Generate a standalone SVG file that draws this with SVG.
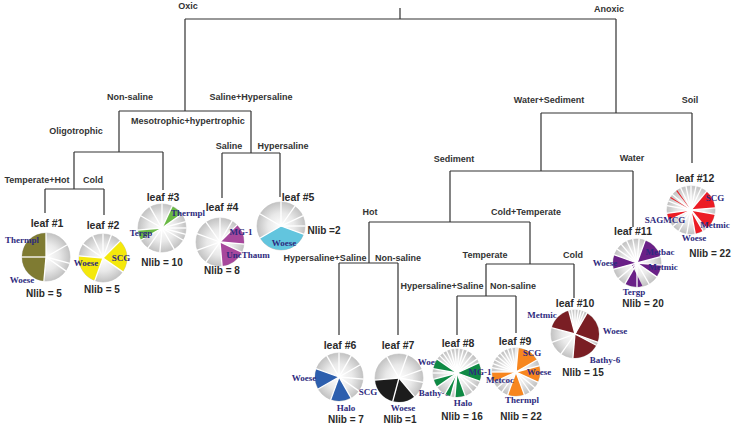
<svg xmlns="http://www.w3.org/2000/svg" xmlns:xlink="http://www.w3.org/1999/xlink" width="736" height="424" viewBox="0 0 736 424">
<style>
.ln{stroke:#333;stroke-width:1.2;fill:none}
.bl{font-family:"Liberation Sans",Arial,sans-serif;font-weight:bold;font-size:9px;fill:#333;text-anchor:middle}
.lf{font-family:"Liberation Sans",Arial,sans-serif;font-weight:bold;font-size:10.5px;fill:#2a2a2a;text-anchor:middle}
.nl{font-family:"Liberation Sans",Arial,sans-serif;font-weight:bold;font-size:10px;fill:#2a2a2a;text-anchor:middle}
.pl{font-family:"Liberation Serif","Times New Roman",serif;font-weight:bold;font-size:9px;fill:#2e2a7e;text-anchor:middle}
.rim{fill:url(#pg);stroke:#bdbdbd;stroke-width:0.6}
.sl{fill:none;stroke-width:24}
.sep{stroke:#fff;stroke-width:1.3}
</style>
<defs>
<radialGradient id="pg" gradientUnits="userSpaceOnUse" cx="0" cy="0" r="24">
<stop offset="0" stop-color="#ffffff"/>
<stop offset="0.55" stop-color="#e9e9e9"/>
<stop offset="1" stop-color="#c3c3c3"/>
</radialGradient>
<path id="s" class="sep" d="M0 0V-24.6"/>
</defs>
<rect width="736" height="424" fill="#fff"/>

<g id="connectors" class="ln">
<path d="M400 8V19M185 19H616"/>
<path d="M185 19V111M119 111H251"/>
<path d="M119 111V152M74 152H163"/>
<path d="M74 152V189M45 189H104M45 189V213M104 189V215"/>
<path d="M163 152V190"/>
<path d="M251 111V153M222 153H280M222 153V198M280 153V197"/>
<path d="M616 19V113M541 113H692M692 113V163"/>
<path d="M541 113V171M450 171H633M633 171V227"/>
<path d="M450 171V222M369 222H530"/>
<path d="M369 222V263M339 263H398M339 263V335M398 263V335"/>
<path d="M530 222V264M486 264H574M574 264V298"/>
<path d="M486 264V296M457 296H516M457 296V335M516 296V333"/>
</g>

<g id="split-root"><text class="bl" x="188" y="9">Oxic</text><text class="bl" x="609" y="12">Anoxic</text></g>
<g id="split-oxic"><text class="bl" x="130" y="100">Non-saline</text><text class="bl" x="251" y="100">Saline+Hypersaline</text></g>
<g id="split-nonsaline"><text class="bl" x="76" y="134">Oligotrophic</text><text class="bl" x="188" y="124">Mesotrophic+hypertrophic</text></g>
<g id="split-oligo"><text class="bl" x="37" y="183">Temperate+Hot</text><text class="bl" x="93" y="183">Cold</text></g>
<g id="split-saline"><text class="bl" x="229" y="149">Saline</text><text class="bl" x="283" y="149">Hypersaline</text></g>
<g id="split-anoxic"><text class="bl" x="549" y="103">Water+Sediment</text><text class="bl" x="690" y="103">Soil</text></g>
<g id="split-watersed"><text class="bl" x="454" y="162">Sediment</text><text class="bl" x="632" y="161">Water</text></g>
<g id="split-sediment"><text class="bl" x="370" y="215">Hot</text><text class="bl" x="526" y="215">Cold+Temperate</text></g>
<g id="split-hot"><text class="bl" x="325" y="261">Hypersaline+Saline</text><text class="bl" x="398" y="261">Non-saline</text></g>
<g id="split-coldtemp"><text class="bl" x="485" y="258">Temperate</text><text class="bl" x="573" y="258">Cold</text></g>
<g id="split-temperate"><text class="bl" x="442" y="289">Hypersaline+Saline</text><text class="bl" x="513" y="289">Non-saline</text></g>

<g id="leaf1">
<text class="lf" x="47" y="227">leaf #1</text>
<g transform="translate(46,257)">
<circle class="rim" r="24"/>
<circle class="sl" r="12" pathLength="360" transform="rotate(-90)" stroke="#7f7b32" stroke-dasharray="85 360" stroke-dashoffset="-185"/>
<circle class="sl" r="12" pathLength="360" transform="rotate(-90)" stroke="#7f7b32" stroke-dasharray="90 360" stroke-dashoffset="-270"/>
<use href="#s"/><use href="#s" transform="rotate(60)"/><use href="#s" transform="rotate(105)"/><use href="#s" transform="rotate(125)"/><use href="#s" transform="rotate(185)"/><use href="#s" transform="rotate(270)"/>
</g>
<text class="pl" x="22" y="243">Thermpl</text>
<text class="pl" x="22" y="283">Woese</text>
<text class="nl" x="44" y="297">Nlib = 5</text>
</g>

<g id="leaf2">
<text class="lf" x="103" y="229">leaf #2</text>
<g transform="translate(103,258)">
<circle class="rim" r="24"/>
<circle class="sl" r="12" pathLength="360" transform="rotate(-90)" stroke="#f4e80c" stroke-dasharray="80 360" stroke-dashoffset="-45"/>
<circle class="sl" r="12" pathLength="360" transform="rotate(-90)" stroke="#f4e80c" stroke-dasharray="75 360" stroke-dashoffset="-200"/>
<use href="#s"/><use href="#s" transform="rotate(20)"/><use href="#s" transform="rotate(45)"/><use href="#s" transform="rotate(125)"/><use href="#s" transform="rotate(200)"/><use href="#s" transform="rotate(275)"/><use href="#s" transform="rotate(305)"/><use href="#s" transform="rotate(335)"/>
</g>
<text class="pl" x="86" y="266">Woese</text>
<text class="pl" x="121" y="261">SCG</text>
<text class="nl" x="102" y="293">Nlib = 5</text>
</g>

<g id="leaf3">
<text class="lf" x="163" y="201">leaf #3</text>
<g transform="translate(162,228)">
<circle class="rim" r="24"/>
<circle class="sl" r="12" pathLength="360" transform="rotate(-90)" stroke="#6ab945" stroke-dasharray="30 360" stroke-dashoffset="-25"/>
<circle class="sl" r="12" pathLength="360" transform="rotate(-90)" stroke="#6ab945" stroke-dasharray="25 360" stroke-dashoffset="-240"/>
<use href="#s"/><use href="#s" transform="rotate(25)"/><use href="#s" transform="rotate(55)"/><use href="#s" transform="rotate(75)"/><use href="#s" transform="rotate(90)"/><use href="#s" transform="rotate(105)"/><use href="#s" transform="rotate(120)"/><use href="#s" transform="rotate(150)"/><use href="#s" transform="rotate(185)"/><use href="#s" transform="rotate(215)"/><use href="#s" transform="rotate(240)"/><use href="#s" transform="rotate(265)"/><use href="#s" transform="rotate(300)"/><use href="#s" transform="rotate(330)"/>
</g>
<text class="pl" x="188" y="216">Thermpl</text>
<text class="pl" x="141" y="236">Tergp</text>
<text class="nl" x="162" y="266">Nlib = 10</text>
</g>

<g id="leaf4">
<text class="lf" x="222" y="211">leaf #4</text>
<g transform="translate(220,242)">
<circle class="rim" r="24"/>
<circle class="sl" r="12" pathLength="360" transform="rotate(-90)" stroke="#a7479c" stroke-dasharray="50 360" stroke-dashoffset="-45"/>
<circle class="sl" r="12" pathLength="360" transform="rotate(-90)" stroke="#a7479c" stroke-dasharray="60 360" stroke-dashoffset="-115"/>
<use href="#s"/><use href="#s" transform="rotate(30)"/><use href="#s" transform="rotate(45)"/><use href="#s" transform="rotate(95)"/><use href="#s" transform="rotate(115)"/><use href="#s" transform="rotate(175)"/><use href="#s" transform="rotate(215)"/><use href="#s" transform="rotate(250)"/><use href="#s" transform="rotate(290)"/><use href="#s" transform="rotate(325)"/>
</g>
<text class="pl" x="241" y="235">MG-1</text>
<text class="pl" x="248" y="258">UncThaum</text>
<text class="nl" x="222" y="274">Nlib = 8</text>
</g>

<g id="leaf5">
<text class="lf" x="298" y="201">leaf #5</text>
<g transform="translate(281,226)">
<circle class="rim" r="24"/>
<circle class="sl" r="12" pathLength="360" transform="rotate(-90)" stroke="#62c5de" stroke-dasharray="130 360" stroke-dashoffset="-110"/>
<use href="#s"/><use href="#s" transform="rotate(35)"/><use href="#s" transform="rotate(65)"/><use href="#s" transform="rotate(90)"/><use href="#s" transform="rotate(110)"/><use href="#s" transform="rotate(240)"/><use href="#s" transform="rotate(300)"/>
</g>
<text class="pl" x="284" y="246">Woese</text>
<text class="nl" x="324" y="234">Nlib =2</text>
</g>

<g id="leaf6">
<text class="lf" x="340" y="349">leaf #6</text>
<g transform="translate(339,377)">
<circle class="rim" r="24"/>
<circle class="sl" r="12" pathLength="360" transform="rotate(-90)" stroke="#2d5fae" stroke-dasharray="50 360" stroke-dashoffset="-240"/>
<circle class="sl" r="12" pathLength="360" transform="rotate(-90)" stroke="#2d5fae" stroke-dasharray="50 360" stroke-dashoffset="-150"/>
<use href="#s"/><use href="#s" transform="rotate(30)"/><use href="#s" transform="rotate(60)"/><use href="#s" transform="rotate(95)"/><use href="#s" transform="rotate(125)"/><use href="#s" transform="rotate(150)"/><use href="#s" transform="rotate(200)"/><use href="#s" transform="rotate(240)"/><use href="#s" transform="rotate(290)"/><use href="#s" transform="rotate(330)"/>
</g>
<text class="pl" x="304" y="381">Woese</text>
<text class="pl" x="368" y="395">SCG</text>
<text class="pl" x="346" y="411">Halo</text>
<text class="nl" x="346" y="423">Nlib = 7</text>
</g>

<g id="leaf7">
<text class="lf" x="398" y="349">leaf #7</text>
<g transform="translate(399,378)">
<circle class="rim" r="24"/>
<circle class="sl" r="12" pathLength="360" transform="rotate(-90)" stroke="#1c1c1c" stroke-dasharray="55 360" stroke-dashoffset="-140"/>
<circle class="sl" r="12" pathLength="360" transform="rotate(-90)" stroke="#1c1c1c" stroke-dasharray="70 360" stroke-dashoffset="-195"/>
<use href="#s" transform="rotate(20)"/><use href="#s" transform="rotate(70)"/><use href="#s" transform="rotate(100)"/><use href="#s" transform="rotate(140)"/><use href="#s" transform="rotate(195)"/><use href="#s" transform="rotate(265)"/><use href="#s" transform="rotate(330)"/>
</g>
<text class="pl" x="430" y="365">Woese</text>
<text class="pl" x="434" y="396">Bathy-6</text>
<text class="pl" x="403" y="411">Woese</text>
<text class="nl" x="400" y="423">Nlib =1</text>
</g>

<g id="leaf8">
<text class="lf" x="458" y="347">leaf #8</text>
<g transform="translate(457,373)">
<circle class="rim" r="24"/>
<circle class="sl" r="12" pathLength="360" transform="rotate(-90)" stroke="#0f8a44" stroke-dasharray="25 360" stroke-dashoffset="-280"/>
<circle class="sl" r="12" pathLength="360" transform="rotate(-90)" stroke="#0f8a44" stroke-dasharray="45 360" stroke-dashoffset="-65"/>
<circle class="sl" r="12" pathLength="360" transform="rotate(-90)" stroke="#0f8a44" stroke-dasharray="25 360" stroke-dashoffset="-160"/>
<circle class="sl" r="12" pathLength="360" transform="rotate(-90)" stroke="#0f8a44" stroke-dasharray="15 360" stroke-dashoffset="-195"/>
<circle class="sl" r="12" pathLength="360" transform="rotate(-90)" stroke="#0f8a44" stroke-dasharray="20 360" stroke-dashoffset="-235"/>
<use href="#s" transform="rotate(305)"/><use href="#s" transform="rotate(315)"/><use href="#s" transform="rotate(325)"/><use href="#s" transform="rotate(335)"/><use href="#s" transform="rotate(345)"/><use href="#s" transform="rotate(355)"/><use href="#s" transform="rotate(5)"/><use href="#s" transform="rotate(15)"/><use href="#s" transform="rotate(25)"/><use href="#s" transform="rotate(40)"/><use href="#s" transform="rotate(55)"/><use href="#s" transform="rotate(65)"/><use href="#s" transform="rotate(110)"/><use href="#s" transform="rotate(125)"/><use href="#s" transform="rotate(140)"/><use href="#s" transform="rotate(160)"/><use href="#s" transform="rotate(185)"/><use href="#s" transform="rotate(195)"/><use href="#s" transform="rotate(210)"/><use href="#s" transform="rotate(235)"/><use href="#s" transform="rotate(255)"/><use href="#s" transform="rotate(270)"/><use href="#s" transform="rotate(280)"/>
</g>
<text class="pl" x="480" y="375">MG-1</text>
<text class="pl" x="463" y="406">Halo</text>
<text class="nl" x="462" y="420">Nlib = 16</text>
</g>

<g id="leaf9">
<text class="lf" x="515" y="345">leaf #9</text>
<g transform="translate(516,372)">
<circle class="rim" r="24"/>
<circle class="sl" r="12" pathLength="360" transform="rotate(-90)" stroke="#f7861f" stroke-dasharray="55 360" stroke-dashoffset="-5"/>
<circle class="sl" r="12" pathLength="360" transform="rotate(-90)" stroke="#f7861f" stroke-dasharray="40 360" stroke-dashoffset="-75"/>
<circle class="sl" r="12" pathLength="360" transform="rotate(-90)" stroke="#f7861f" stroke-dasharray="40 360" stroke-dashoffset="-160"/>
<circle class="sl" r="12" pathLength="360" transform="rotate(-90)" stroke="#f7861f" stroke-dasharray="25 360" stroke-dashoffset="-245"/>
<use href="#s" transform="rotate(270)"/><use href="#s" transform="rotate(280)"/><use href="#s" transform="rotate(290)"/><use href="#s" transform="rotate(300)"/><use href="#s" transform="rotate(310)"/><use href="#s" transform="rotate(320)"/><use href="#s" transform="rotate(330)"/><use href="#s" transform="rotate(340)"/><use href="#s" transform="rotate(350)"/><use href="#s"/><use href="#s" transform="rotate(5)"/><use href="#s" transform="rotate(60)"/><use href="#s" transform="rotate(75)"/><use href="#s" transform="rotate(115)"/><use href="#s" transform="rotate(130)"/><use href="#s" transform="rotate(145)"/><use href="#s" transform="rotate(160)"/><use href="#s" transform="rotate(200)"/><use href="#s" transform="rotate(215)"/><use href="#s" transform="rotate(230)"/><use href="#s" transform="rotate(245)"/>
</g>
<text class="pl" x="532" y="356">SCG</text>
<text class="pl" x="539" y="375">Woese</text>
<text class="pl" x="500" y="383">Metcoc</text>
<text class="pl" x="522" y="403">Thermpl</text>
<text class="nl" x="521" y="420">Nlib = 22</text>
</g>

<g id="leaf10">
<text class="lf" x="575" y="307">leaf #10</text>
<g transform="translate(575,334)">
<circle class="rim" r="24"/>
<circle class="sl" r="12" pathLength="360" transform="rotate(-90)" stroke="#7a1e24" stroke-dasharray="60 360" stroke-dashoffset="-285"/>
<circle class="sl" r="12" pathLength="360" transform="rotate(-90)" stroke="#7a1e24" stroke-dasharray="80 360" stroke-dashoffset="-30"/>
<circle class="sl" r="12" pathLength="360" transform="rotate(-90)" stroke="#7a1e24" stroke-dasharray="67 360" stroke-dashoffset="-118"/>
<use href="#s" transform="rotate(345)"/><use href="#s" transform="rotate(352)"/><use href="#s"/><use href="#s" transform="rotate(8)"/><use href="#s" transform="rotate(15)"/><use href="#s" transform="rotate(22)"/><use href="#s" transform="rotate(30)"/><use href="#s" transform="rotate(110)"/><use href="#s" transform="rotate(118)"/><use href="#s" transform="rotate(185)"/><use href="#s" transform="rotate(215)"/><use href="#s" transform="rotate(250)"/><use href="#s" transform="rotate(285)"/>
</g>
<text class="pl" x="542" y="318">Metmic</text>
<text class="pl" x="615" y="334">Woese</text>
<text class="pl" x="605" y="363">Bathy-6</text>
<text class="nl" x="583" y="376">Nlib = 15</text>
</g>

<g id="leaf11">
<text class="lf" x="633" y="235">leaf #11</text>
<g transform="translate(637,263)">
<circle class="rim" r="24"/>
<circle class="sl" r="12" pathLength="360" transform="rotate(-90)" stroke="#6a2087" stroke-dasharray="55 360" stroke-dashoffset="-20"/>
<circle class="sl" r="12" pathLength="360" transform="rotate(-90)" stroke="#6a2087" stroke-dasharray="30 360" stroke-dashoffset="-95"/>
<circle class="sl" r="12" pathLength="360" transform="rotate(-90)" stroke="#6a2087" stroke-dasharray="30 360" stroke-dashoffset="-180"/>
<circle class="sl" r="12" pathLength="360" transform="rotate(-90)" stroke="#6a2087" stroke-dasharray="35 360" stroke-dashoffset="-255"/>
<use href="#s" transform="rotate(290)"/><use href="#s" transform="rotate(305)"/><use href="#s" transform="rotate(320)"/><use href="#s" transform="rotate(335)"/><use href="#s" transform="rotate(350)"/><use href="#s" transform="rotate(5)"/><use href="#s" transform="rotate(20)"/><use href="#s" transform="rotate(75)"/><use href="#s" transform="rotate(95)"/><use href="#s" transform="rotate(125)"/><use href="#s" transform="rotate(150)"/><use href="#s" transform="rotate(180)"/><use href="#s" transform="rotate(210)"/><use href="#s" transform="rotate(230)"/><use href="#s" transform="rotate(255)"/>
</g>
<text class="pl" x="660" y="255">Metbac</text>
<text class="pl" x="663" y="270">Metmic</text>
<text class="pl" x="605" y="266">Woese</text>
<text class="pl" x="634" y="295">Tergp</text>
<text class="nl" x="643" y="307">Nlib = 20</text>
</g>

<g id="leaf12">
<text class="lf" x="695" y="182">leaf #12</text>
<g transform="translate(691,210)">
<circle class="rim" r="24"/>
<circle class="sl" r="12" pathLength="360" transform="rotate(-90)" stroke="#ec1c24" stroke-dasharray="45 360" stroke-dashoffset="-40"/>
<circle class="sl" r="12" pathLength="360" transform="rotate(-90)" stroke="#ec1c24" stroke-dasharray="40 360" stroke-dashoffset="-100"/>
<circle class="sl" r="12" pathLength="360" transform="rotate(-90)" stroke="#ec1c24" stroke-dasharray="20 360" stroke-dashoffset="-150"/>
<circle class="sl" r="12" pathLength="360" transform="rotate(-90)" stroke="#ec1c24" stroke-dasharray="17 360" stroke-dashoffset="-245"/>
<circle class="sl" r="12" pathLength="360" transform="rotate(-90)" stroke="#ec1c24" stroke-dasharray="3 360" stroke-dashoffset="-300"/>
<circle class="sl" r="12" pathLength="360" transform="rotate(-90)" stroke="#ec1c24" stroke-dasharray="3 360" stroke-dashoffset="-322"/>
<use href="#s" transform="rotate(280)"/><use href="#s" transform="rotate(292)"/><use href="#s" transform="rotate(310)"/><use href="#s" transform="rotate(335)"/><use href="#s" transform="rotate(348)"/><use href="#s"/><use href="#s" transform="rotate(12)"/><use href="#s" transform="rotate(25)"/><use href="#s" transform="rotate(40)"/><use href="#s" transform="rotate(85)"/><use href="#s" transform="rotate(100)"/><use href="#s" transform="rotate(140)"/><use href="#s" transform="rotate(150)"/><use href="#s" transform="rotate(170)"/><use href="#s" transform="rotate(190)"/><use href="#s" transform="rotate(210)"/><use href="#s" transform="rotate(228)"/><use href="#s" transform="rotate(245)"/><use href="#s" transform="rotate(262)"/>
</g>
<text class="pl" x="715" y="201">SCG</text>
<text class="pl" x="665" y="223">SAGMCG</text>
<text class="pl" x="715" y="228">Metmic</text>
<text class="pl" x="694" y="241">Woese</text>
<text class="nl" x="710" y="257">Nlib = 22</text>
</g>
</svg>
